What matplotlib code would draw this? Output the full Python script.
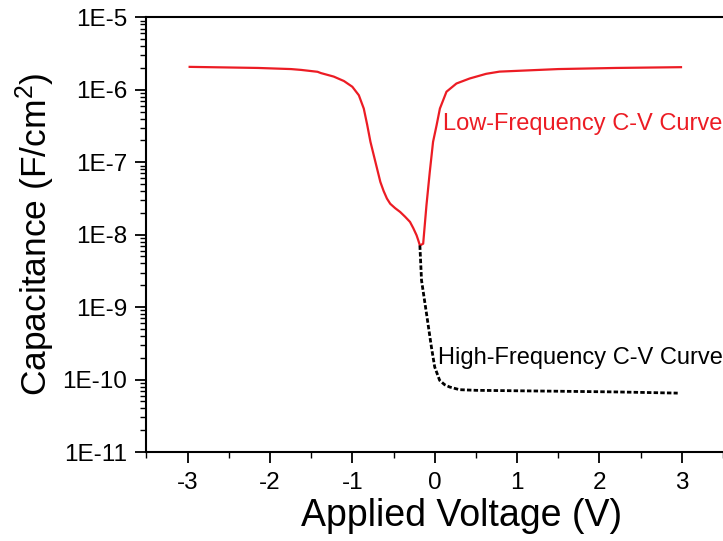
import matplotlib
matplotlib.use("Agg")
import matplotlib.pyplot as plt
from matplotlib.ticker import LogLocator, MultipleLocator, NullFormatter

plt.rcParams['font.family'] = ['Liberation Sans', 'DejaVu Sans']
plt.rcParams['mathtext.fontset'] = 'custom'
plt.rcParams['mathtext.rm'] = 'Liberation Sans'
plt.rcParams['mathtext.it'] = 'Liberation Sans'

# Low-frequency C-V curve (V, F/cm^2)
lf_v = [-2.975, -2.5, -2.145, -1.744, -1.623, -1.422, -1.382, -1.226, -1.102, -1.0,
        -0.921, -0.861, -0.82, -0.78, -0.72, -0.66, -0.62, -0.58, -0.54, -0.48,
        -0.42, -0.36, -0.30, -0.26, -0.22, -0.20, -0.18, -0.14, -0.10, -0.06,
        -0.02, 0.023, 0.063, 0.143, 0.264, 0.424, 0.625, 0.787, 1.5, 2.2, 2.99]
lf_c = [2.07e-6, 2.03e-6, 2.00e-6, 1.93e-6, 1.88e-6, 1.77e-6, 1.70e-6, 1.52e-6, 1.32e-6,
        1.10e-6, 8.4e-7, 5.5e-7, 3.3e-7, 1.91e-7, 1.01e-7, 5.35e-8, 4.0e-8, 3.15e-8,
        2.67e-8, 2.32e-8, 2.06e-8, 1.77e-8, 1.50e-8, 1.23e-8, 9.8e-9, 8.4e-9, 7.1e-9,
        7.5e-9, 2.55e-8, 7.3e-8, 1.91e-7, 3.24e-7, 5.5e-7, 9.4e-7, 1.22e-6, 1.43e-6,
        1.66e-6, 1.78e-6, 1.93e-6, 2.0e-6, 2.05e-6]

# High-frequency C-V curve
hf_v = [-0.18, -0.16, -0.10, -0.04, 0.0, 0.06, 0.12, 0.18, 0.3, 0.5, 1.0, 1.5, 2.2, 2.95]
hf_c = [7.1e-9, 2.34e-9, 8.2e-10, 2.81e-10, 1.49e-10, 9.75e-11, 8.5e-11, 7.9e-11,
        7.25e-11, 7.1e-11, 7.0e-11, 6.9e-11, 6.75e-11, 6.5e-11]

ytick_vals = [1e-11, 1e-10, 1e-9, 1e-8, 1e-7, 1e-6, 1e-5]
ytick_labels = ["1E-11", "1E-10", "1E-9", "1E-8", "1E-7", "1E-6", "1E-5"]
xtick_vals = [-3, -2, -1, 0, 1, 2, 3]

fig = plt.figure(figsize=(7.23, 5.41), dpi=100)
ax = fig.add_axes([0.2025, 0.1645, 0.7975, 0.8035])

ax.semilogy(lf_v, lf_c, color='#ec1c24', lw=1.6)
ax.semilogy(hf_v, hf_c, color='black', lw=2.0, linestyle=(0, (1.6, 0.8)))

ax.set_xlim(-3.5, 3.5)
ax.set_ylim(1e-11, 1e-5)
ax.set_yticks(ytick_vals)
ax.set_yticklabels(ytick_labels)
ax.yaxis.set_minor_locator(LogLocator(base=10, subs=range(2, 10), numticks=50))
ax.yaxis.set_minor_formatter(NullFormatter())
ax.set_xticks(xtick_vals)
ax.set_xticklabels([str(v) for v in xtick_vals])
ax.xaxis.set_minor_locator(MultipleLocator(0.5))

for s in ['left', 'top', 'bottom']:
    ax.spines[s].set_linewidth(1.5)
ax.spines['right'].set_visible(False)

ax.tick_params(axis='both', which='major', direction='out', length=8, width=1.3,
               labelsize=17.5)
ax.tick_params(axis='both', which='minor', direction='out', length=4.5, width=1.0)
ax.tick_params(axis='y', which='major', pad=6)
ax.tick_params(axis='x', which='major', pad=6.5)

ax.set_xlabel("Applied Voltage (V)", fontsize=27, labelpad=1)
ax.xaxis.set_label_coords(0.546, -0.105)
ax.set_ylabel("Capacitance (F/cm$^2$)", fontsize=25.5, labelpad=4)

ax.text(0.099, 2.77e-7, "Low-Frequency C-V Curve", color='#ec1c24', fontsize=17,
        va='baseline', ha='left')
ax.text(0.042, 1.66e-10, "High-Frequency C-V Curve", color='black', fontsize=17,
        va='baseline', ha='left')

fig.savefig("out.png", dpi=100)
